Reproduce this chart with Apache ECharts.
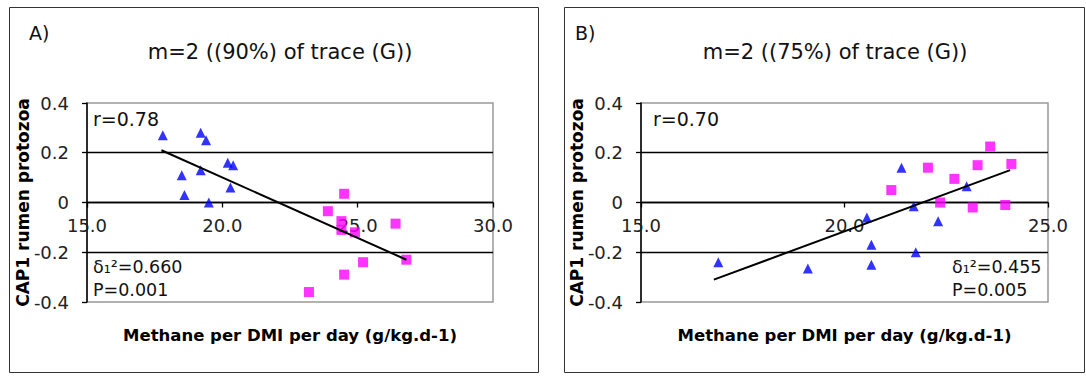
<!DOCTYPE html>
<html>
<head>
<meta charset="utf-8">
<script src="https://cdn.jsdelivr.net/npm/echarts@6/dist/echarts.min.js"></script>
<style>
html,body{margin:0;padding:0;background:#fff;}
#c{width:1086px;height:376px;}
</style>
</head>
<body>
<div id="c"></div>
<script>
// ---- Data ----
const panelLetters = ['A)', 'B)'];
const panelTitles = ['m=2 ((90%) of trace (G))', 'm=2 ((75%) of trace (G))'];
const xAxisTitle = 'Methane per DMI per day (g/kg.d-1)';
const yAxisTitle = 'CAP1 rumen protozoa';

const xRangeA = [15, 30];
const xRangeB = [15, 25];
const yRange = [-0.4, 0.4];

const trianglesA = [[17.8,0.27],[19.2,0.28],[19.4,0.25],[18.5,0.11],[18.6,0.03],[19.2,0.13],[19.5,0.0],[20.2,0.16],[20.4,0.15],[20.3,0.06]];
const squaresA = [[24.5,0.035],[23.9,-0.035],[24.4,-0.075],[24.4,-0.11],[24.9,-0.12],[26.4,-0.085],[26.8,-0.23],[25.2,-0.24],[24.5,-0.29],[23.2,-0.36]];
const trendA = [[17.75,0.21],[26.8,-0.23]];

const trianglesB = [[16.9,-0.24],[19.1,-0.265],[20.55,-0.06],[20.66,-0.17],[20.66,-0.25],[21.4,0.14],[21.7,-0.015],[21.75,-0.2],[22.3,-0.075],[23.0,0.065]];
const squaresB = [[21.15,0.05],[22.05,0.14],[22.35,0.0],[22.7,0.095],[23.15,-0.02],[23.27,0.15],[23.58,0.225],[23.95,-0.01],[24.1,0.155]];
const trendB = [[16.79,-0.31],[24.07,0.13]];

const statsA = ['r=0.78', 'δ₁²=0.660', 'P=0.001'];
const statsB = ['r=0.70', 'δ₁²=0.455', 'P=0.005'];

// ---- Chart ----
const FONT = 'DejaVu Sans';
const GRID_H = 199;
const chart = echarts.init(document.getElementById('c'), null, {renderer: 'svg'});

function xAxisCfg(gi, range) {
  return {
    gridIndex: gi, type: 'value', min: range[0], max: range[1], interval: 5,
    position: 'bottom', offset: -GRID_H / 2, // axis crosses y at 0 (middle of symmetric range)
    name: xAxisTitle, nameLocation: 'middle', nameGap: 124, nameMoveOverlap: false,
    nameTextStyle: {fontFamily: FONT, fontWeight: 'bold', fontSize: 16.5, color: '#000'},
    axisLine: {show: true, onZero: false, lineStyle: {color: '#000', width: 1.3}},
    axisTick: {show: true, length: 5, lineStyle: {color: '#000', width: 1.3}},
    axisLabel: {fontFamily: FONT, fontSize: 18, color: '#222', margin: 14,
      formatter: v => v.toFixed(1)},
    splitLine: {show: false}
  };
}
function yAxisCfg(gi) {
  return {
    gridIndex: gi, type: 'value', min: yRange[0], max: yRange[1], interval: 0.2,
    name: yAxisTitle, nameLocation: 'middle', nameGap: 56, nameRotate: 90, nameMoveOverlap: false,
    nameTextStyle: {fontFamily: FONT, fontWeight: 'bold', fontSize: 17, color: '#000'},
    axisLine: {show: true, onZero: false, lineStyle: {color: '#000', width: 1.5}},
    axisTick: {show: true, length: 5, lineStyle: {color: '#000', width: 1.3}},
    axisLabel: {fontFamily: FONT, fontSize: 18, color: '#222', margin: 18,
      formatter: v => (Math.abs(v) < 1e-9 ? '0' : String(Math.round(v * 10) / 10))},
    splitLine: {show: true, showMinLine: false, showMaxLine: false,
      lineStyle: {color: '#000', width: 1.3}}
  };
}
function scatter(xi, data, symbol, color) {
  return {type: 'scatter', xAxisIndex: xi, yAxisIndex: xi, data: data,
    symbol: symbol, symbolSize: symbol === 'triangle' ? [10, 10] : 10,
    itemStyle: {color: color}, silent: true, z: 3};
}
function trend(xi, data) {
  return {type: 'line', xAxisIndex: xi, yAxisIndex: xi, data: data,
    symbol: 'none', lineStyle: {color: '#000', width: 2}, silent: true, z: 4};
}
function txt(x, y, s, size, align, weight) {
  return {type: 'text', x: x, y: y, silent: true,
    style: {text: s, fontFamily: FONT, fontSize: size, fontWeight: weight || 'normal',
      fill: '#111', align: align || 'left', verticalAlign: 'middle'}};
}

const option = {
  backgroundColor: '#fff',
  animation: false,
  grid: [
    {left: 87, top: 103, width: 406, height: GRID_H, show: true, borderColor: '#999', borderWidth: 1.5, backgroundColor: 'transparent', containLabel: false, outerBoundsMode: 'none'},
    {left: 641, top: 103, width: 407, height: GRID_H, show: true, borderColor: '#999', borderWidth: 1.5, backgroundColor: 'transparent', containLabel: false, outerBoundsMode: 'none'}
  ],
  xAxis: [xAxisCfg(0, xRangeA), xAxisCfg(1, xRangeB)],
  yAxis: [yAxisCfg(0), yAxisCfg(1)],
  series: [
    scatter(0, trianglesA, 'triangle', '#0000ff'),
    scatter(0, squaresA, 'rect', '#ff00ff'),
    trend(0, trendA),
    scatter(1, trianglesB, 'triangle', '#0000ff'),
    scatter(1, squaresB, 'rect', '#ff00ff'),
    trend(1, trendB)
  ],
  graphic: [
    {type: 'rect', silent: true, z: -1, shape: {x: 9.5, y: 7.5, width: 529, height: 365}, style: {fill: 'none', stroke: '#333', lineWidth: 1}},
    {type: 'rect', silent: true, z: -1, shape: {x: 564.5, y: 7.5, width: 520, height: 365}, style: {fill: 'none', stroke: '#333', lineWidth: 1}},
    txt(29, 33, panelLetters[0], 19),
    txt(575, 33, panelLetters[1], 19),
    txt(280, 52, panelTitles[0], 21, 'center'),
    txt(835, 52, panelTitles[1], 21, 'center'),
    txt(93, 119, statsA[0], 19),
    txt(93, 267, statsA[1], 17.5),
    txt(93, 290, statsA[2], 17.5),
    txt(653, 119, statsB[0], 19),
    txt(952, 267, statsB[1], 17.5),
    txt(952, 290, statsB[2], 17.5)
  ]
};
chart.setOption(option);
</script>
</body>
</html>
